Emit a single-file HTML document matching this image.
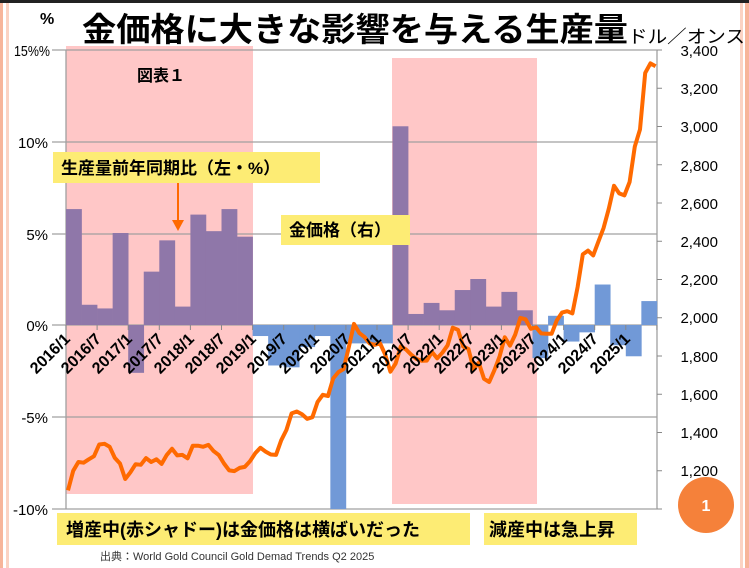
<!DOCTYPE html>
<html><head><meta charset="utf-8"><style>
html,body{margin:0;padding:0;background:#fff;}
body{width:749px;height:568px;overflow:hidden;position:relative;font-family:"Liberation Sans","Noto Sans CJK JP",sans-serif;}
svg{position:absolute;left:0;top:0;}
</style></head><body>
<svg id="s" width="749" height="568" viewBox="0 0 749 568" xmlns="http://www.w3.org/2000/svg" font-family="Liberation Sans, Noto Sans CJK JP, sans-serif">
<rect x="0" y="0" width="749" height="568" fill="#fff"/>
<rect x="0" y="0" width="749" height="3" fill="#222"/>
<rect x="0" y="3" width="3" height="565" fill="#f7b59a"/>
<rect x="6" y="3" width="3" height="565" fill="#fbd3c3"/>
<rect x="740" y="3" width="3" height="565" fill="#fbd3c3"/>
<rect x="745" y="3" width="4" height="565" fill="#f7b59a"/>
<rect x="66" y="46" width="187" height="448" fill="#ffc7c7"/>
<rect x="392" y="58" width="145" height="446" fill="#ffc7c7"/>
<g stroke="#a0a0a0" stroke-width="1.3">
<line x1="52" y1="50" x2="657" y2="50"/>
<line x1="52" y1="142" x2="657" y2="142"/>
<line x1="52" y1="234" x2="657" y2="234"/>
<line x1="52" y1="325" x2="657" y2="325"/>
<line x1="52" y1="417" x2="657" y2="417"/>
<line x1="52" y1="509" x2="657" y2="509"/>
<line x1="66" y1="50" x2="66" y2="509"/>
<line x1="657" y1="50" x2="657" y2="509"/>
</g>
<g id="bars"></g>
<g id="ticks" stroke="#888" stroke-width="1"></g>
<polyline id="gold" fill="none" stroke="#ff6a00" stroke-width="4" stroke-linejoin="round"/>
<g font-size="15" fill="#000" text-anchor="end">
<text x="50" y="56" textLength="36" lengthAdjust="spacingAndGlyphs">15%%</text>
<text x="48" y="148">10%</text>
<text x="48" y="240">5%</text>
<text x="48" y="331">0%</text>
<text x="48" y="423">-5%</text>
<text x="48" y="515">-10%</text>
</g>
<text x="40" y="24" font-size="16" font-weight="bold">%</text>
<g font-size="15" fill="#000" text-anchor="end">
<text x="718" y="56">3,400</text>
<text x="718" y="94">3,200</text>
<text x="718" y="132">3,000</text>
<text x="718" y="171">2,800</text>
<text x="718" y="209">2,600</text>
<text x="718" y="247">2,400</text>
<text x="718" y="285">2,200</text>
<text x="718" y="323">2,000</text>
<text x="718" y="362">1,800</text>
<text x="718" y="400">1,600</text>
<text x="718" y="438">1,400</text>
<text x="718" y="476">1,200</text>
<text x="718" y="515">1,000</text>
</g>
<g font-size="16" font-weight="bold" fill="#000" text-anchor="end">
<text transform="translate(71,340) rotate(-45)">2016/1</text>
<text transform="translate(102,340) rotate(-45)">2016/7</text>
<text transform="translate(133,340) rotate(-45)">2017/1</text>
<text transform="translate(164,340) rotate(-45)">2017/7</text>
<text transform="translate(195,340) rotate(-45)">2018/1</text>
<text transform="translate(226,340) rotate(-45)">2018/7</text>
<text transform="translate(257,340) rotate(-45)">2019/1</text>
<text transform="translate(288,340) rotate(-45)">2019/7</text>
<text transform="translate(320,340) rotate(-45)">2020/1</text>
<text transform="translate(351,340) rotate(-45)">2020/7</text>
<text transform="translate(382,340) rotate(-45)">2021/1</text>
<text transform="translate(413,340) rotate(-45)">2021/7</text>
<text transform="translate(444,340) rotate(-45)">2022/1</text>
<text transform="translate(475,340) rotate(-45)">2022/7</text>
<text transform="translate(506,340) rotate(-45)">2023/1</text>
<text transform="translate(537,340) rotate(-45)">2023/7</text>
<text transform="translate(568,340) rotate(-45)">2024/1</text>
<text transform="translate(599,340) rotate(-45)">2024/7</text>
<text transform="translate(631,340) rotate(-45)">2025/1</text>
</g>
<text x="82" y="41" font-size="33" font-weight="bold" fill="#000" textLength="546" lengthAdjust="spacingAndGlyphs">金価格に大きな影響を与える生産量</text>
<text x="628" y="43" font-size="18" fill="#000" textLength="117" lengthAdjust="spacingAndGlyphs">ドル／オンス</text>
<text x="137" y="81" font-size="16" font-weight="bold" fill="#000">図表１</text>
<rect x="53" y="152" width="267" height="31" fill="#fdec74"/>
<text x="61" y="174" font-size="17" font-weight="bold" fill="#000">生産量前年同期比（左・%）</text>
<line x1="178" y1="183" x2="178" y2="222" stroke="#ff6a00" stroke-width="2"/>
<polygon points="172,220 184,220 178,231" fill="#ff6a00"/>
<rect x="281" y="215" width="129" height="30" fill="#fdec74"/>
<text x="289" y="236" font-size="17" font-weight="bold" fill="#000">金価格（右）</text>
<rect x="57" y="513" width="413" height="32" fill="#fdec74"/>
<text x="66" y="536" font-size="18" font-weight="bold" fill="#000">増産中(赤シャドー)は金価格は横ばいだった</text>
<rect x="484" y="513" width="153" height="32" fill="#fdec74"/>
<text x="489" y="536" font-size="18" font-weight="bold" fill="#000">減産中は急上昇</text>
<text x="100" y="560" font-size="11" fill="#333">出典：World Gold Council Gold Demad Trends Q2 2025</text>
<circle cx="706" cy="505" r="28" fill="#f5813a"/>
<text x="706" y="511" font-size="16" font-weight="bold" fill="#fff" text-anchor="middle">1</text>
</svg>
<script>
var NS="http://www.w3.org/2000/svg";
var v=[6.3,1.1,0.9,5.0,-2.6,2.9,4.6,1.0,6.0,5.1,6.3,4.8,-0.6,-2.2,-2.3,-1.2,-0.6,-10,-1.0,-1.0,-1.0,10.8,0.6,1.2,0.8,1.9,2.5,1.0,1.8,0.8,-1.8,0.5,-0.9,-0.4,2.2,-1.1,-1.7,1.3];
var g=document.getElementById("bars"),w=15.55;
for(var i=0;i<v.length;i++){var x=66+i*w,h=v[i]*18.4;var r=document.createElementNS(NS,"rect");
r.setAttribute("x",x);r.setAttribute("width",w+0.3);r.setAttribute("y",h>0?325-h:325);r.setAttribute("height",Math.abs(h));
var pink=(i<12)||(i>=21&&i<30);r.setAttribute("fill",pink?"#8f77a9":"#7199d7");g.appendChild(r);}
var t=document.getElementById("ticks");
for(var k=0;k<=19;k++){var l=document.createElementNS(NS,"line");var x=66+k*2*w;l.setAttribute("x1",x);l.setAttribute("x2",x);l.setAttribute("y1",325);l.setAttribute("y2",330);t.appendChild(l);}
for(var k=0;k<=12;k++){var l=document.createElementNS(NS,"line");var y=50+k*38.25;l.setAttribute("x1",657);l.setAttribute("x2",662);l.setAttribute("y1",y);l.setAttribute("y2",y);t.appendChild(l);}
var p=[1097,1200,1246,1242,1260,1276,1337,1341,1326,1267,1238,1157,
1192,1234,1231,1266,1246,1260,1236,1283,1315,1280,1283,1265,
1331,1331,1325,1335,1303,1282,1238,1202,1198,1215,1220,1250,
1291,1320,1300,1285,1283,1359,1413,1500,1510,1495,1471,1480,
1560,1597,1591,1683,1716,1732,1846,1968,1921,1900,1866,1858,
1867,1808,1718,1760,1850,1834,1807,1785,1775,1776,1821,1788,
1817,1856,1948,1937,1849,1837,1732,1765,1681,1664,1726,1798,
1898,1854,1912,1999,1992,1942,1950,1918,1916,1916,1986,2027,
2034,2023,2160,2331,2351,2326,2398,2470,2570,2690,2650,2640,
2710,2895,2985,3280,3330,3315];
var pts=[];for(var m=0;m<p.length;m++){pts.push((68+5.2*m).toFixed(1)+","+(509-(p[m]-1000)*0.19125).toFixed(1));}
document.getElementById("gold").setAttribute("points",pts.join(" "));
</script>
</body></html>
